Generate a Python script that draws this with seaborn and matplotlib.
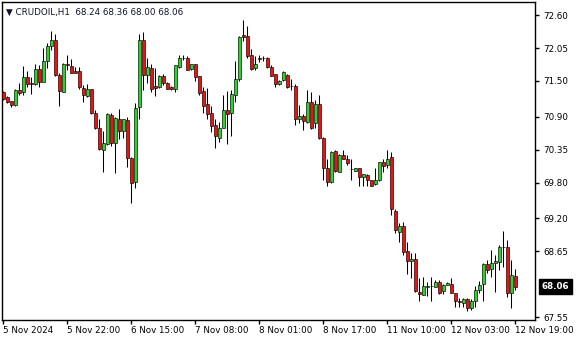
import numpy as np
import pandas as pd
import matplotlib
matplotlib.use("Agg")
import matplotlib.pyplot as plt
import matplotlib.transforms as mtransforms
import seaborn as sns

# ---- data (CRUDOIL, H1) ----
opens = [71.31,71.23,71.16,71.10,71.34,71.32,71.56,71.46,71.44,71.70,
         71.49,71.83,72.09,72.19,71.60,71.32,71.78,71.75,71.66,71.66,
         71.38,71.25,71.36,70.96,70.71,70.35,70.45,70.93,70.46,70.87,
         70.66,70.84,70.21,69.81,71.06,72.19,71.60,71.71,71.41,71.40,
         71.59,71.46,71.39,71.37,71.74,71.88,71.89,71.70,71.78,71.58,
         71.33,71.11,70.96,70.77,70.55,70.72,71.02,70.97,71.27,71.54,
         72.27,72.25,71.94,71.71,71.88,71.88,71.88,71.73,71.61,71.44,
         71.51,71.60,71.41,71.41,70.87,70.91,70.82,71.14,70.79,71.12,
         70.55,70.04,69.81,70.33,69.98,70.26,70.20,70.03,70.00,70.04,
         69.89,69.93,69.84,69.78,69.85,70.14,70.10,70.22,69.33,68.98,
         69.07,68.65,68.48,68.52,67.97,67.91,68.06,68.07,68.06,68.13,
         67.99,68.08,68.11,67.95,67.81,67.79,67.85,67.70,67.81,68.01,
         68.10,68.44,68.35,68.45,68.47,68.72,68.72,67.96,68.24]
highs = [71.33,71.25,71.17,71.37,71.46,71.75,71.66,71.57,71.78,71.76,
         72.05,72.14,72.33,72.29,71.64,71.80,71.93,71.86,71.74,71.74,
         71.43,71.44,71.37,71.01,70.87,70.66,70.97,70.97,70.90,71.03,
         70.86,70.89,70.23,71.13,72.28,72.32,71.89,71.79,71.71,71.60,
         71.61,71.48,71.42,71.76,71.94,71.94,71.91,71.78,71.79,71.58,
         71.40,71.38,71.08,70.86,70.82,71.26,71.33,71.35,71.83,72.25,
         72.52,72.42,72.03,71.91,71.93,71.91,71.90,71.76,71.61,71.51,
         71.66,71.61,71.54,71.45,71.10,70.94,71.35,71.31,71.18,71.26,
         70.56,70.19,70.33,70.34,70.27,70.35,70.26,70.19,70.05,70.04,
         69.95,69.94,69.85,70.05,70.15,70.19,70.34,70.31,69.35,69.12,
         69.14,68.81,68.62,68.62,68.21,68.22,68.14,68.22,68.17,68.17,
         68.10,68.14,68.20,67.95,67.87,67.87,67.86,67.85,68.07,68.15,
         68.45,68.50,68.67,68.58,68.75,68.99,68.84,68.50,68.36]
lows = [71.18,71.13,71.07,71.08,71.26,71.26,71.40,71.28,71.43,71.40,
        71.48,71.71,72.01,71.59,71.08,71.31,71.68,71.63,71.63,71.37,
        71.15,71.23,70.95,70.69,70.35,69.98,70.43,70.41,69.96,70.53,
        70.55,70.06,69.45,69.71,70.87,71.34,71.46,71.31,71.24,71.38,
        71.43,71.36,71.35,71.31,71.71,71.85,71.68,71.68,71.50,71.26,
        70.97,70.87,70.64,70.37,70.48,70.71,70.45,70.57,71.14,71.50,
        72.17,71.89,71.68,71.69,71.82,71.83,71.71,71.59,71.40,71.43,
        71.50,71.38,71.35,70.77,70.79,70.68,70.79,70.70,70.71,70.53,
        69.85,69.75,69.80,69.97,69.98,70.19,70.10,69.84,69.99,69.75,
        69.75,69.75,69.75,69.76,69.83,69.97,70.04,69.25,68.96,68.81,
        68.59,68.27,68.20,67.97,67.82,67.91,67.90,67.82,68.05,67.93,
        67.93,68.08,67.95,67.71,67.72,67.72,67.65,67.66,67.72,67.95,
        67.81,68.29,68.22,67.97,68.34,68.38,67.89,67.70,68.00]
closes = [71.20,71.14,71.10,71.34,71.30,71.56,71.45,71.45,71.70,71.48,
          71.83,72.08,72.18,71.60,71.33,71.79,71.76,71.64,71.64,71.39,
          71.27,71.37,70.96,70.72,70.36,70.46,70.94,70.46,70.88,70.67,
          70.86,70.21,69.80,71.04,72.19,71.60,71.73,71.37,71.38,71.58,
          71.46,71.37,71.37,71.76,71.88,71.89,71.69,71.78,71.56,71.30,
          71.08,70.95,70.75,70.57,70.71,71.01,70.95,71.28,71.54,72.23,
          72.24,71.92,71.70,71.79,71.87,71.88,71.74,71.59,71.44,71.50,
          71.65,71.40,71.41,70.87,70.91,70.83,71.14,70.71,71.12,70.55,
          70.05,69.81,70.31,69.99,70.26,70.19,70.12,70.02,70.05,69.89,
          69.94,69.85,69.75,69.85,70.14,70.08,70.20,69.35,69.00,69.07,
          68.63,68.48,68.52,67.99,67.93,68.07,68.07,68.07,68.13,67.96,
          68.09,68.12,67.96,67.81,67.80,67.85,67.70,67.82,68.01,68.09,
          68.44,68.34,68.45,68.48,68.72,68.72,67.96,68.25,68.06]

x_tick_pos = [0, 16, 32, 48, 64, 80, 96, 112, 128]
x_tick_labels = ["5 Nov 2024", "5 Nov 22:00", "6 Nov 15:00", "7 Nov 08:00",
                 "8 Nov 01:00", "8 Nov 17:00", "11 Nov 10:00", "12 Nov 03:00",
                 "12 Nov 19:00"]
y_ticks = [67.55, 68.65, 69.20, 69.80, 70.35, 70.90, 71.50, 72.05, 72.60]
y_tick_labels = ["67.55", "68.65", "69.20", "69.80", "70.35", "70.90",
                 "71.50", "72.05", "72.60"]
title_text = "\u25BC CRUDOIL,H1  68.24 68.36 68.00 68.06"
last_price = 68.06

df = pd.DataFrame({"open": opens, "high": highs, "low": lows, "close": closes})
df["idx"] = np.arange(len(df))

sns.set_theme(style="white")
plt.rcParams["font.family"] = ["DejaVu Sans"]

GREEN = "#2fd12f"
RED = "#ee1111"

fig = plt.figure(figsize=(5.8, 3.4), dpi=100)
ax = fig.add_axes([2 / 580, 20 / 340, 533 / 580, 318 / 340])

up = df["close"] >= df["open"]
body_bottom = np.minimum(df["open"], df["close"])
body_h = np.maximum((df["close"] - df["open"]).abs(), 0.002)
colors = np.where(up, GREEN, RED)

ax.vlines(df["idx"], df["low"], df["high"], color="black", linewidth=0.75, zorder=2)
ax.bar(df["idx"], body_h, bottom=body_bottom, width=0.64, color=colors,
       edgecolor="black", linewidth=0.45, zorder=3)

ax.set_xlim(-0.33, 132.9)
ax.set_ylim(67.50, 72.82)

for s in ax.spines.values():
    s.set_visible(True)
    s.set_color("black")
    s.set_linewidth(1.0)

ax.yaxis.tick_right()
ax.set_yticks(y_ticks)
ax.set_yticklabels(y_tick_labels)
ax.set_xticks(x_tick_pos)
ax.set_xticklabels(x_tick_labels, ha="left")
ax.tick_params(axis="y", which="both", left=False, right=True, direction="out",
               length=3, width=1, color="black", labelsize=6.3, pad=3.2,
               labelcolor="black")
ax.tick_params(axis="x", which="both", bottom=True, direction="out",
               length=3, width=1, color="black", labelsize=6.3, pad=1.5,
               labelcolor="black")
for lbl in ax.get_xticklabels():
    lbl.set_horizontalalignment("left")
ax.set_xlabel("")
ax.set_ylabel("")
ax.grid(False)

# current price box
trans = mtransforms.blended_transform_factory(ax.transAxes, ax.transData)
ax.text(1.012, last_price, f"{last_price:.2f}", transform=trans, ha="left",
        va="center", color="white", fontsize=6.3, fontweight="bold",
        bbox=dict(boxstyle="square,pad=0.3", facecolor="black", edgecolor="black"),
        clip_on=False, zorder=5)

fig.text(6 / 580, 1 - 12 / 340, title_text, ha="left", va="center",
         fontsize=6.3, color="#101030")

fig.savefig("out.png", dpi=100, facecolor="white")
